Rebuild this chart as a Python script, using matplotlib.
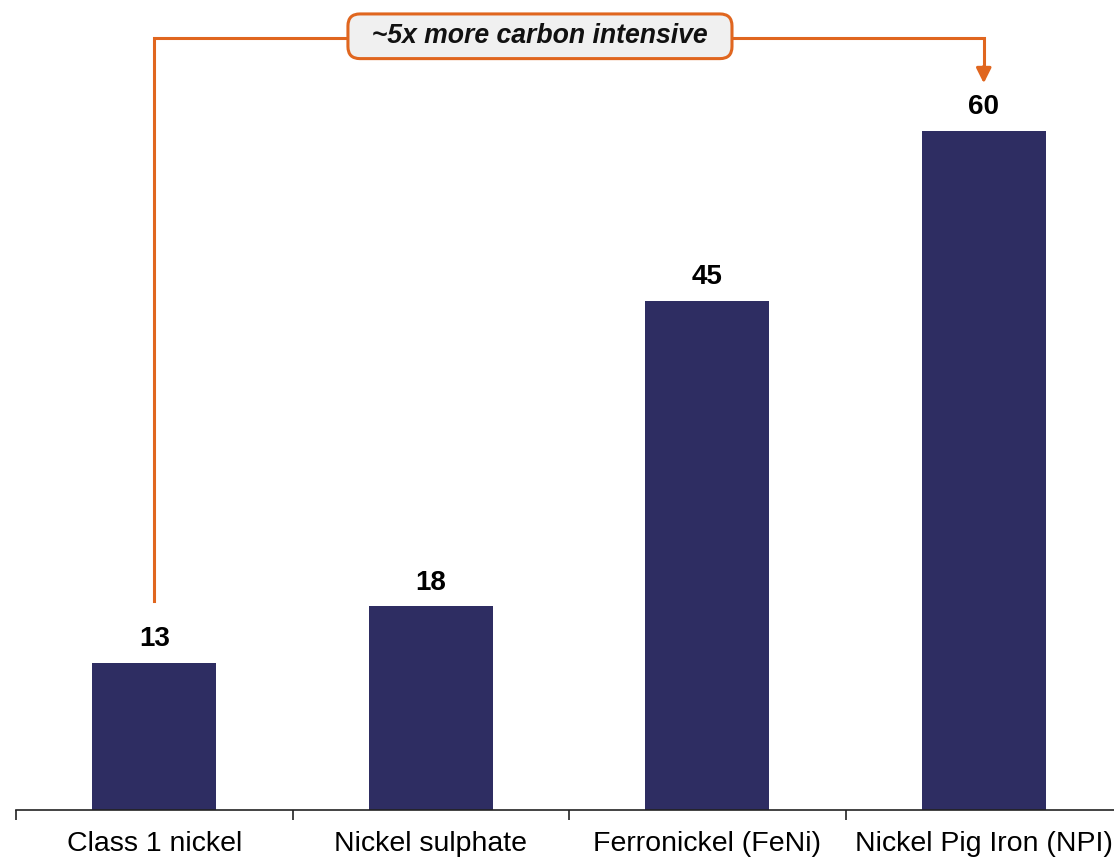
import numpy as np
import matplotlib.pyplot as plt

plt.rcParams['font.family'] = ['Liberation Sans', 'DejaVu Sans']

# Data
categories = ["Class 1 nickel", "Nickel sulphate", "Ferronickel (FeNi)", "Nickel Pig Iron (NPI)"]
values = [13, 18, 45, 60]
callout = "~5x more carbon intensive"

BAR_COLOR = "#2e2d62"
ORANGE = "#e0661f"

fig = plt.figure(figsize=(11.14, 8.58), dpi=100)
# axis runs a bit past the right edge of the figure, as in the source
ax = fig.add_axes([16 / 1114, 48 / 858, 1106 / 1114, 810 / 858])

x = np.arange(len(categories))
ax.bar(x, values, width=0.45, color=BAR_COLOR, zorder=2)

ax.set_xlim(-0.5, len(categories) - 0.5)
ax.set_ylim(0, 810 / 11.32)

# value labels
for xi, v in zip(x, values):
    ax.annotate(str(v), (xi, v), xytext=(0, 12), textcoords="offset points",
                ha="center", va="baseline", fontsize=20, fontweight="bold", color="black")

# axis styling: only bottom spine, ticks between categories
for s in ["left", "top", "right"]:
    ax.spines[s].set_visible(False)
ax.spines["bottom"].set_linewidth(1.2)
ax.spines["bottom"].set_color("#222222")
ax.set_yticks([])
ax.set_xticks(x)
ax.set_xticklabels(categories, fontsize=20.5)
ax.tick_params(axis="x", which="major", length=0, pad=15)
ax.set_xticks(np.arange(-0.5, len(categories), 1.0), minor=True)
ax.tick_params(axis="x", which="minor", length=7, width=1.2, color="#222222", direction="out")

# bracket: from first bar up, across, down to the last bar
top = max(values) + 8.2
start_y = values[0] + 5.5
end_y = values[-1] + 4.2
ax.plot([x[0], x[0], x[-1], x[-1]], [start_y, top, top, end_y + 1.2],
        color=ORANGE, lw=2.2, solid_joinstyle="miter", zorder=3, clip_on=False)
ax.annotate("", xy=(x[-1], end_y), xytext=(x[-1], end_y + 1.5),
            arrowprops=dict(arrowstyle="-|>,head_length=0.9,head_width=0.45",
                            color=ORANGE, lw=2.2, shrinkA=0, shrinkB=0))
ax.text((x[0] + x[-1]) / 2 - 0.105, top + 0.15, "  " + callout + "  ", ha="center", va="center",
        fontsize=19.2, fontweight="bold", fontstyle="italic", color="#111111", zorder=4,
        bbox=dict(boxstyle="round,pad=0.35,rounding_size=0.45", facecolor="#f0f0f0",
                  edgecolor=ORANGE, linewidth=2.2))

fig.savefig("out.png", dpi=100)
